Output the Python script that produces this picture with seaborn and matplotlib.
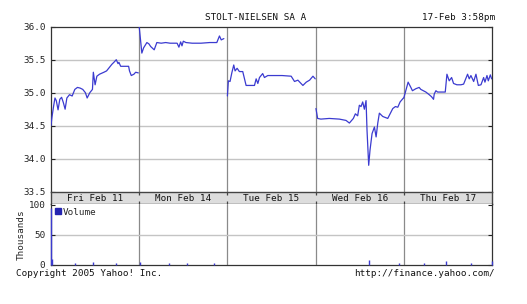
import numpy as np
import pandas as pd
import matplotlib
matplotlib.use("Agg")
import matplotlib.pyplot as plt
from matplotlib.lines import Line2D
import seaborn as sns

# ---------------- data ----------------
day_labels = ["Fri Feb 11", "Mon Feb 14", "Tue Feb 15", "Wed Feb 16", "Thu Feb 17"]

fri_t = [0.0, 0.01, 0.03, 0.045, 0.06, 0.08, 0.10, 0.12, 0.14, 0.16, 0.18, 0.21, 0.24, 0.27,
         0.30, 0.33, 0.36, 0.39, 0.41, 0.44, 0.47, 0.48, 0.50, 0.52, 0.55, 0.60, 0.63, 0.66,
         0.69, 0.72, 0.74, 0.76, 0.77, 0.79, 0.85, 0.88, 0.89, 0.91, 0.94, 0.96, 0.99]
fri_p = [34.50, 34.62, 34.80, 34.92, 34.88, 34.74, 34.90, 34.93, 34.85, 34.75, 34.92, 34.97,
         34.95, 35.05, 35.08, 35.07, 35.05, 35.00, 34.92, 35.00, 35.05, 35.31, 35.12, 35.25,
         35.28, 35.31, 35.33, 35.38, 35.43, 35.47, 35.50, 35.44, 35.46, 35.40, 35.40, 35.40,
         35.33, 35.26, 35.28, 35.31, 35.30]

mon_t = [0.0, 0.015, 0.03, 0.05, 0.087, 0.11, 0.13, 0.17, 0.20, 0.25, 0.30, 0.35, 0.40, 0.43,
         0.45, 0.47, 0.485, 0.50, 0.53, 0.60, 0.70, 0.80, 0.88, 0.91, 0.93, 0.96]
mon_p = [36.00, 35.80, 35.60, 35.68, 35.76, 35.74, 35.70, 35.65, 35.76, 35.75, 35.76, 35.75,
         35.75, 35.75, 35.69, 35.77, 35.71, 35.78, 35.76, 35.75, 35.75, 35.76, 35.76, 35.86,
         35.80, 35.82]

tue_t = [0.0, 0.011, 0.03, 0.05, 0.072, 0.087, 0.11, 0.136, 0.174, 0.212, 0.25, 0.307, 0.326,
         0.345, 0.364, 0.40, 0.42, 0.458, 0.534, 0.62, 0.723, 0.761, 0.799, 0.856, 0.894,
         0.932, 0.97, 0.996]
tue_p = [34.95, 35.18, 35.17, 35.30, 35.42, 35.33, 35.37, 35.32, 35.32, 35.11, 35.11, 35.11,
         35.21, 35.14, 35.23, 35.29, 35.23, 35.26, 35.26, 35.26, 35.25, 35.17, 35.19, 35.11,
         35.16, 35.19, 35.25, 35.21]

wed_t = [0.004, 0.023, 0.06, 0.155, 0.269, 0.345, 0.383, 0.428, 0.451, 0.477, 0.496, 0.515,
         0.534, 0.553, 0.572, 0.583, 0.602, 0.617, 0.64, 0.667, 0.686, 0.705, 0.723, 0.761,
         0.818, 0.856, 0.875, 0.905, 0.932, 0.958, 0.996]
wed_p = [34.76, 34.61, 34.60, 34.61, 34.60, 34.58, 34.54, 34.61, 34.68, 34.65, 34.81, 34.79,
         34.86, 34.75, 34.88, 34.43, 33.90, 34.13, 34.38, 34.48, 34.33, 34.54, 34.69, 34.64,
         34.61, 34.71, 34.76, 34.79, 34.78, 34.86, 34.92]

thu_t = [0.0, 0.049, 0.08, 0.098, 0.136, 0.174, 0.193, 0.25, 0.288, 0.314, 0.337, 0.345,
         0.364, 0.383, 0.42, 0.47, 0.489, 0.515, 0.542, 0.564, 0.602, 0.648, 0.678, 0.723,
         0.742, 0.761, 0.792, 0.818, 0.845, 0.875, 0.905, 0.92, 0.943, 0.958, 0.981, 0.996]
thu_p = [34.92, 35.16, 35.08, 35.03, 35.06, 35.08, 35.05, 35.01, 34.97, 34.94, 34.90, 34.98,
         35.03, 35.01, 35.01, 35.01, 35.28, 35.18, 35.23, 35.14, 35.12, 35.12, 35.13, 35.28,
         35.21, 35.26, 35.17, 35.28, 35.11, 35.12, 35.23, 35.16, 35.26, 35.18, 35.27, 35.21]

vol_x = [0.0, 0.01, 0.273, 0.48, 0.739, 1.004, 1.333, 1.54, 1.845, 3.606, 3.947, 4.23,
         4.477, 4.76, 4.995]
vol_k = [95, 10, 4, 5, 3, 5, 3, 3, 4, 8, 3, 4, 6, 3, 6]

title = "STOLT-NIELSEN SA A"
stamp = "17-Feb 3:58pm"
price_ticks = [33.5, 34.0, 34.5, 35.0, 35.5, 36.0]
vol_ticks = [0, 50, 100]

# ---------------- figure ----------------
sns.set_style("white")
plt.rcParams["font.family"] = ["DejaVu Sans Mono"]
FS = 6.7
LINE = "#3b3bd0"
GRID_H = "#c4c4c4"
GRID_V = "#8a8a8a"

W, H = 527, 304
fig = plt.figure(figsize=(W / 100, H / 100), dpi=100)

def frac(x0, y0, x1, y1):
    return [x0 / W, 1 - y1 / H, (x1 - x0) / W, (y1 - y0) / H]

L, R = 51, 492
ax = fig.add_axes(frac(L, 26.7, R, 191.7))
band = fig.add_axes(frac(L, 191.7, R, 203.5))
axv = fig.add_axes(frac(L, 203.5, R, 265))

rows = []
for i, (tt, pp) in enumerate([(fri_t, fri_p), (mon_t, mon_p), (tue_t, tue_p),
                              (wed_t, wed_p), (thu_t, thu_p)]):
    for t, p in zip(tt, pp):
        rows.append({"x": i + t, "price": p, "day": i})
df = pd.DataFrame(rows)

# grid
for y in [34.0, 34.5, 35.0, 35.5]:
    ax.axhline(y, color=GRID_H, lw=1.0, zorder=0)
for d in range(1, 5):
    ax.axvline(d, color=GRID_V, lw=0.9, zorder=0)
    axv.axvline(d, color=GRID_V, lw=0.9, zorder=0)
axv.axhline(50, color=GRID_H, lw=1.0, zorder=0)

sns.lineplot(data=df, x="x", y="price", units="day", estimator=None,
             color=LINE, lw=0.9, ax=ax, legend=False, zorder=3)

ax.set_xlim(0, 5)
ax.set_ylim(33.5, 36.0)
ax.set_yticks(price_ticks)
ax.set_yticklabels([f"{v:.1f}" for v in price_ticks], fontsize=FS)
ax.set_xticks([])
ax.set_xlabel("")
ax.set_ylabel("")
ax.tick_params(axis="y", which="both", left=True, right=True, length=3, width=0.8,
               direction="in", pad=4, colors="#222222")
for s in ax.spines.values():
    s.set_color("#333333")
    s.set_linewidth(0.9)
    s.set_zorder(2)
ax.spines["bottom"].set_visible(False)

# date band
band.set_xlim(0, 5)
band.set_ylim(0, 1)
band.set_facecolor("#dddddd")
band.set_xticks([])
band.set_yticks([])
for s in band.spines.values():
    s.set_color("#444444")
    s.set_linewidth(1.0)
for i, lab in enumerate(day_labels):
    band.text(i + 0.5, 0.45, lab, ha="center", va="center", fontsize=FS, color="#111111")
for d in range(1, 5):
    band.vlines(d, 0.0, 0.25, color="#444444", lw=0.9)
    band.vlines(d, 0.75, 1.0, color="#444444", lw=0.9)

# volume
axv.vlines(vol_x, 0, vol_k, color=LINE, lw=1.0, zorder=3, clip_on=False)
axv.set_xlim(0, 5)
axv.set_ylim(0, 102)
axv.set_yticks(vol_ticks)
axv.set_yticklabels([str(v) for v in vol_ticks], fontsize=FS)
axv.set_xticks([])
axv.tick_params(axis="y", left=True, right=True, length=3, width=0.8, direction="in",
                pad=4, colors="#222222")
axv.set_ylabel("Thousands", fontsize=FS, labelpad=2)
for s in axv.spines.values():
    s.set_color("#333333")
    s.set_linewidth(0.9)
    s.set_zorder(2)
axv.spines["top"].set_visible(False)
handle = Line2D([], [], marker="s", ls="none", color="#2424b0", markersize=4.5)
axv.legend([handle], ["Volume"], loc="upper left", frameon=False, fontsize=FS,
           handlelength=0.6, handletextpad=0.2, borderaxespad=0.15, borderpad=0.3)

# texts
fig.text(255.5 / W, 1 - 18 / H, title, ha="center", va="center", fontsize=FS, color="#111111")
fig.text(495 / W, 1 - 18 / H, stamp, ha="right", va="center", fontsize=FS, color="#111111")
fig.text(16 / W, 1 - 274 / H, "Copyright 2005 Yahoo! Inc.", ha="left", va="center",
         fontsize=FS, color="#111111")
fig.text(495 / W, 1 - 274 / H, "http://finance.yahoo.com/", ha="right", va="center",
         fontsize=FS, color="#111111")

fig.savefig("out.png", dpi=100, facecolor="white")
